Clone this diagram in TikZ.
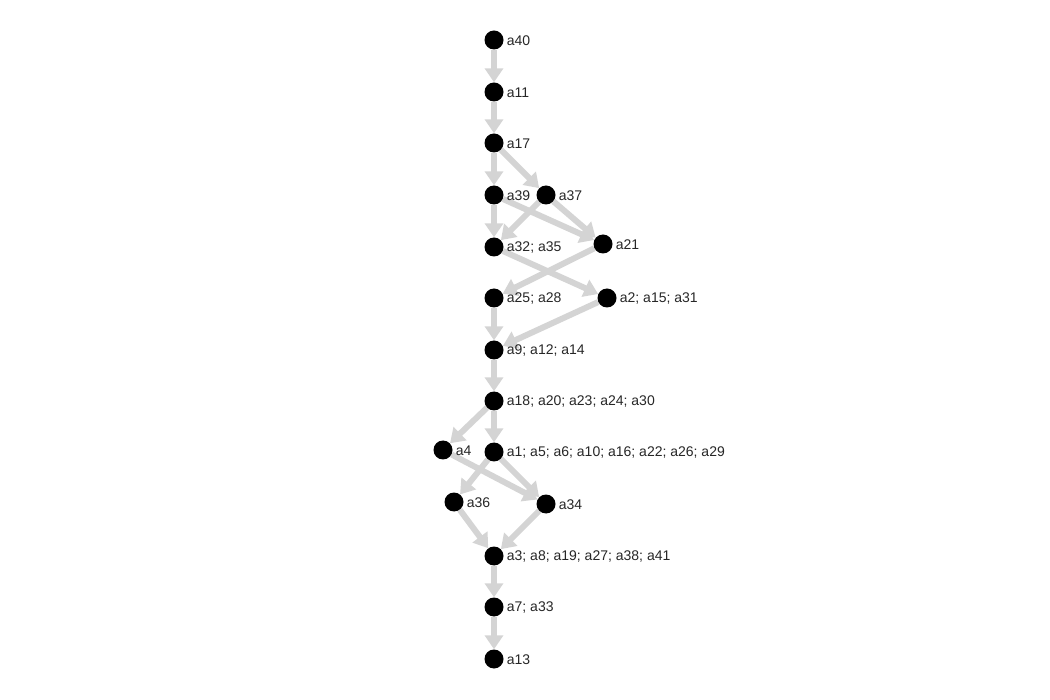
\documentclass[tikz,border=0pt]{standalone}
\usepackage{fontspec}
\setmainfont{Liberation Sans}
\usetikzlibrary{arrows.meta,backgrounds}

\begin{document}
\begin{tikzpicture}
  [x=1pt,y=-1pt,
   dot/.style={circle,fill=black,minimum size=19pt,inner sep=0pt,
     label={[label distance=3pt,inner sep=0pt,text=black!85,yshift=-1pt,
             font=\fontsize{14}{16}\selectfont]right:#1}},
   flow/.style={draw=black!17,line width=6pt,
     -{Triangle[width=18pt,length=14pt]}}]

  \useasboundingbox (0,0) rectangle (1050,700);

  \node[dot=a40]                 (a40) at (494,40)  {};
  \node[dot=a11]                 (a11) at (494,92)  {};
  \node[dot=a17]                 (a17) at (494,143) {};
  \node[dot=a39]                 (a39) at (494,195) {};
  \node[dot=a37]                 (a37) at (546,195) {};
  \node[dot={a32; a35}]          (a32) at (494,247) {};
  \node[dot=a21]                 (a21) at (603,244) {};
  \node[dot={a25; a28}]          (a25) at (494,298) {};
  \node[dot={a2; a15; a31}]      (a2)  at (607,298) {};
  \node[dot={a9; a12; a14}]      (a9)  at (494,350) {};
  \node[dot={a18; a20; a23; a24; a30}] (a18) at (494,401) {};
  \node[dot=a4]                  (a4)  at (443,450) {};
  \node[dot={a1; a5; a6; a10; a16; a22; a26; a29}] (a1) at (494,452) {};
  \node[dot=a36]                 (a36) at (454,502) {};
  \node[dot=a34]                 (a34) at (546,504) {};
  \node[dot={a3; a8; a19; a27; a38; a41}] (a3) at (494,556) {};
  \node[dot={a7; a33}]           (a7)  at (494,607) {};
  \node[dot=a13]                 (a13) at (494,659) {};

  \begin{scope}[on background layer]
    \foreach \from/\to in {a40/a11,a11/a17,a17/a39,a17/a37,
                           a39/a32,a39/a21,a37/a32,a37/a21,
                           a32/a2,a21/a25,a25/a9,a2/a9,a9/a18,
                           a18/a4,a18/a1,a1/a36,a4/a34,a1/a34,
                           a36/a3,a34/a3,a3/a7,a7/a13}
      \draw[flow] (\from) -- (\to);
  \end{scope}
\end{tikzpicture}
\end{document}
